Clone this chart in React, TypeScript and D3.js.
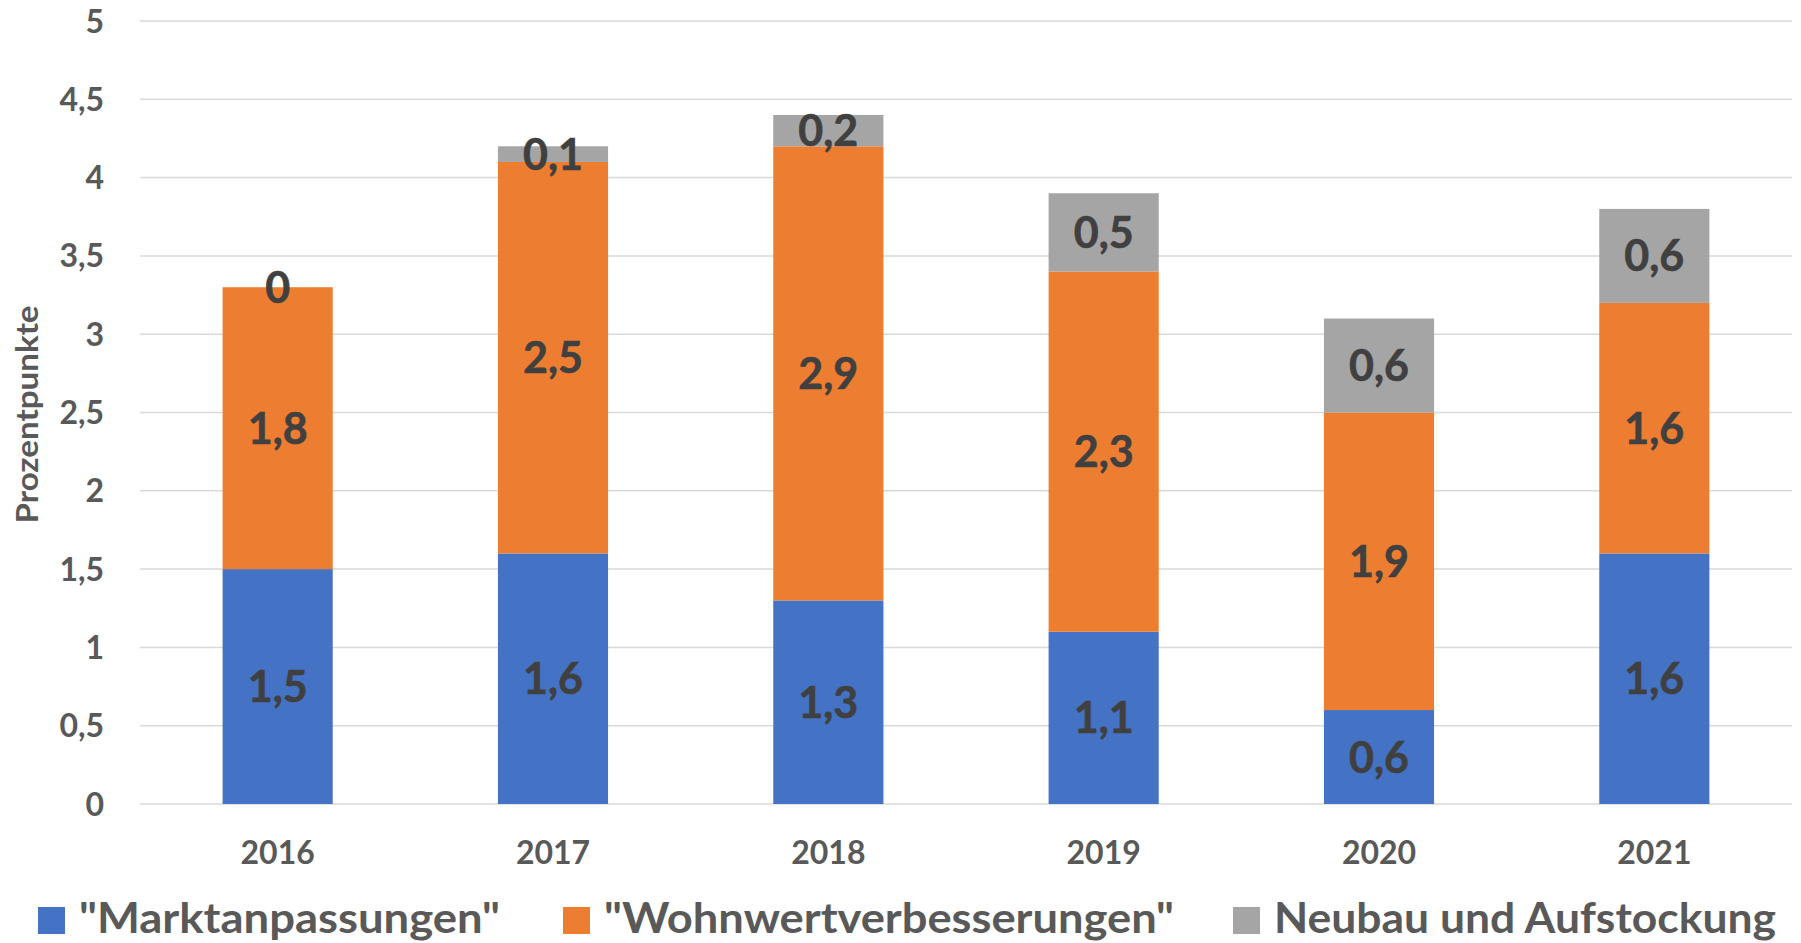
import React, { useEffect, useRef } from 'react';
import * as d3 from 'd3';

const years = ['2016', '2017', '2018', '2019', '2020', '2021'];
const marktanpassungen = [1.5, 1.6, 1.3, 1.1, 0.6, 1.6];
const wohnwert = [1.8, 2.5, 2.9, 2.3, 1.9, 1.6];
const neubau = [0, 0.1, 0.2, 0.5, 0.6, 0.6];
const seriesNames = ['"Marktanpassungen"', '"Wohnwertverbesserungen"', 'Neubau und Aufstockung'];
const seriesColors = ['#4472C4', '#ED7D31', '#A5A5A5'];
const yTicks = [0, 0.5, 1, 1.5, 2, 2.5, 3, 3.5, 4, 4.5, 5];
const yTitle = 'Prozentpunkte';

const W = 1801;
const H = 943;
const FONT = 'Lato, "Open Sans", sans-serif';

const de = d3.formatLocale({ decimal: ',', thousands: '.', grouping: [3], currency: ['', ' €'] });
const fmt = (v: number) => de.format('~g')(v);

export default function App() {
  const svgRef = useRef<SVGSVGElement>(null);

  useEffect(() => {
    if (!svgRef.current) return;
    const svg = d3.select(svgRef.current);
    svg.selectAll('*').remove();

    const margin = { top: 21, right: 9, bottom: 139, left: 140 };
    const innerW = W - margin.left - margin.right;
    const innerH = H - margin.top - margin.bottom;

    const x = d3.scaleBand<string>().domain(years).range([0, innerW]).paddingInner(0.6).paddingOuter(0.3);
    const y = d3.scaleLinear().domain([0, 5]).range([innerH, 0]);

    const g = svg.append('g').attr('transform', `translate(${margin.left},${margin.top})`);

    // grid
    g.append('g')
      .selectAll('line')
      .data(yTicks)
      .join('line')
      .attr('x1', 0)
      .attr('x2', innerW)
      .attr('y1', d => y(d))
      .attr('y2', d => y(d))
      .attr('stroke', '#D9D9D9')
      .attr('stroke-width', 1.5);

    // y tick labels
    g.append('g')
      .selectAll('text')
      .data(yTicks)
      .join('text')
      .attr('x', -36)
      .attr('y', d => y(d) + 11.5)
      .attr('text-anchor', 'end')
      .attr('font-family', FONT)
      .attr('font-weight', 700)
      .attr('font-size', 32)
      .attr('fill', '#595959')
      .text(d => fmt(d));

    // x tick labels
    g.append('g')
      .selectAll('text')
      .data(years)
      .join('text')
      .attr('x', d => (x(d) ?? 0) + x.bandwidth() / 2)
      .attr('y', innerH + 60)
      .attr('text-anchor', 'middle')
      .attr('font-family', FONT)
      .attr('font-weight', 700)
      .attr('font-size', 32)
      .attr('fill', '#595959')
      .text(d => d);

    // stacked bars
    const rows = years.map((yr, i) => ({ year: yr, a: marktanpassungen[i], b: wohnwert[i], c: neubau[i] }));
    const stack = d3.stack<any>().keys(['a', 'b', 'c'])(rows);

    const layers = g.append('g')
      .selectAll('g')
      .data(stack)
      .join('g')
      .attr('fill', (_, i) => seriesColors[i]);

    layers.selectAll('rect')
      .data(d => d)
      .join('rect')
      .attr('x', d => x(d.data.year) ?? 0)
      .attr('width', x.bandwidth())
      .attr('y', d => y(d[1]))
      .attr('height', d => y(d[0]) - y(d[1]));

    // data labels
    const labels = g.append('g');
    stack.forEach(layer => {
      labels.selectAll(null)
        .data(layer)
        .join('text')
        .attr('x', d => (x(d.data.year) ?? 0) + x.bandwidth() / 2)
        .attr('y', d => y((d[0] + d[1]) / 2) + 15.5)
        .attr('text-anchor', 'middle')
        .attr('font-family', FONT)
        .attr('font-weight', 700)
        .attr('font-size', 43)
        .attr('fill', '#404040')
        .attr('stroke', '#404040')
        .attr('stroke-width', 0.6)
        .text(d => fmt(+(d[1] - d[0]).toFixed(1)));
    });

    // y axis title
    svg.append('text')
      .attr('transform', `translate(38,${margin.top + y(2.5) + 2}) rotate(-90)`)
      .attr('text-anchor', 'middle')
      .attr('font-family', FONT)
      .attr('font-weight', 700)
      .attr('font-size', 30)
      .attr('fill', '#595959')
      .attr('textLength', 218)
      .attr('lengthAdjust', 'spacingAndGlyphs')
      .text(yTitle);

    // legend
    const legendX = [38, 563, 1233];
    const legendTextW = [421, 570, 502];
    const legend = svg.append('g')
      .selectAll('g')
      .data(seriesNames)
      .join('g')
      .attr('transform', (_, i) => `translate(${legendX[i]},907)`);
    legend.append('rect')
      .attr('width', 27)
      .attr('height', 27)
      .attr('fill', (_, i) => seriesColors[i]);
    legend.append('text')
      .attr('x', 41)
      .attr('y', 26)
      .attr('font-family', FONT)
      .attr('font-weight', 700)
      .attr('font-size', 42)
      .attr('fill', '#595959')
      .attr('textLength', (_, i) => legendTextW[i])
      .attr('lengthAdjust', 'spacingAndGlyphs')
      .text(d => d);
  }, []);

  return (
    <svg
      ref={svgRef}
      width={W}
      height={H}
      style={{ position: 'absolute', top: 0, left: 0, display: 'block', background: '#fff' }}
    />
  );
}
